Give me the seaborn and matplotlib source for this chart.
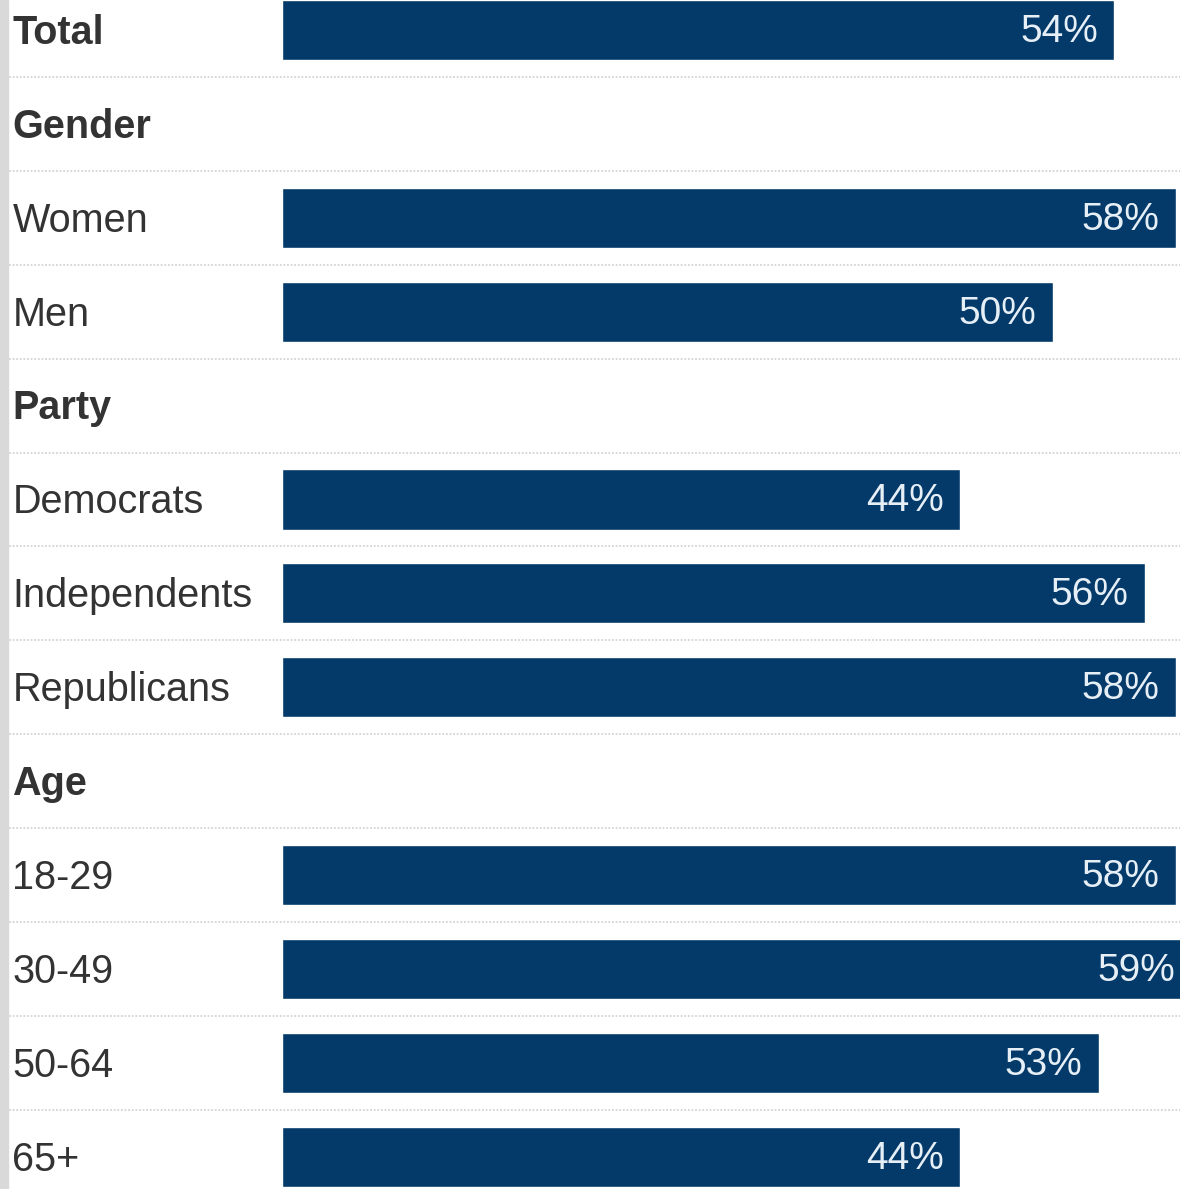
import pandas as pd
import numpy as np
import seaborn as sns
import matplotlib.pyplot as plt

sns.set_theme(style='white')
plt.rcParams['font.family'] = ['Liberation Sans', 'DejaVu Sans']

# Data
rows = ["Total", "Gender", "Women", "Men", "Party", "Democrats", "Independents",
        "Republicans", "Age", "18-29", "30-49", "50-64", "65+"]
headers = ["Total", "Gender", "Party", "Age"]
groups = ["Total", "Women", "Men", "Democrats", "Independents", "Republicans",
          "18-29", "30-49", "50-64", "65+"]
values = [54, 58, 50, 44, 56, 58, 58, 59, 53, 44]

df = pd.DataFrame({"group": groups, "pct": values})

barColor = "#033a69"

fig = plt.figure(figsize=(11.8, 11.89), dpi=100)
ax = fig.add_axes([0, 0, 1, 1])

sns.barplot(data=df, y="group", x="pct", order=rows, orient="h",
            color=barColor, saturation=1, width=0.64, ax=ax)

ax.set_xlim(-18.3, 58.27)
ax.set_ylim(12.343, -0.3195)
ax.set_xlabel("")
ax.set_ylabel("")
ax.set_xticks([])
ax.set_yticks([])
for s in ax.spines.values():
    s.set_visible(False)

# Row labels on the left
for i, r in enumerate(rows):
    bold = r in headers
    ax.text(-17.5, i + 0.03, r, va="center", ha="left", fontsize=28.5,
            fontweight="bold" if bold else "normal", color="#333333")

# Value labels inside the bars
for g, v in zip(groups, values):
    i = rows.index(g)
    ax.text(v - 1.05, i + 0.02, f"{v}%", va="center", ha="right",
            fontsize=28, color="#e6eef6")

# Dotted separators between rows
for i in range(len(rows)):
    ax.plot([-17.7, 58.27], [i + 0.5, i + 0.5], color="#d4d4d4",
            lw=1.3, ls=(0, (1, 1)), zorder=0)

# Grey strip on the far left
fig.patches.append(plt.Rectangle((0, 0), 8 / 1180, 1, transform=fig.transFigure,
                                 color="#d9d9d9", zorder=5))

fig.savefig("out.png", dpi=100)
